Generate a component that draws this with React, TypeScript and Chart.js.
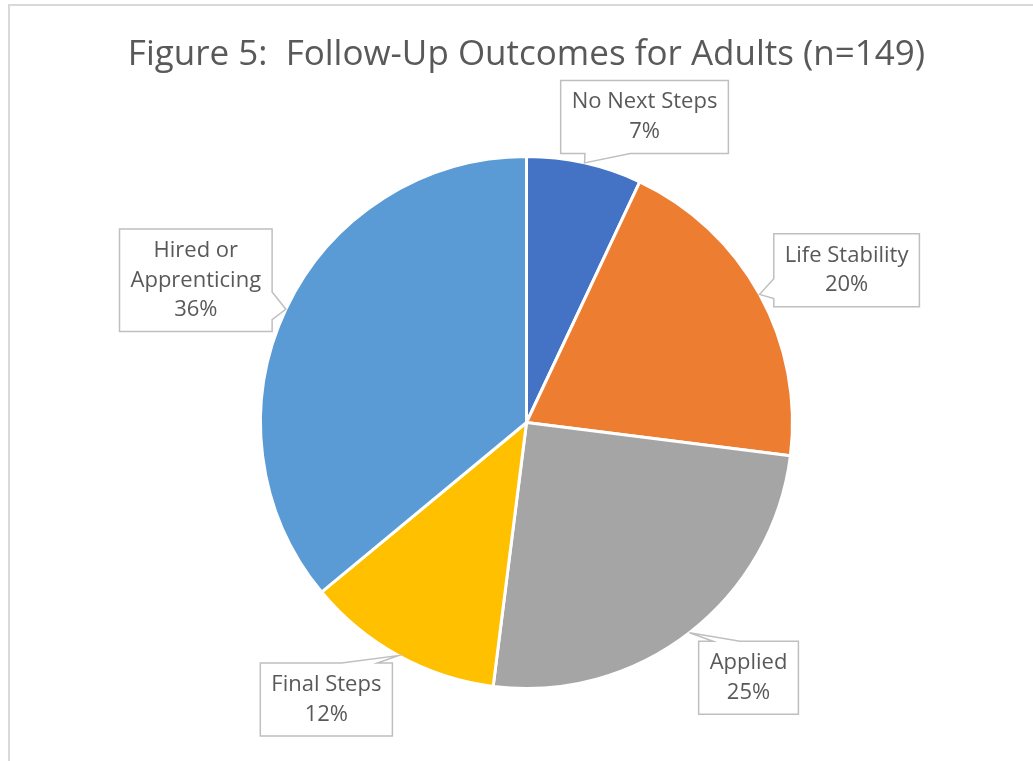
import React, { useEffect, useRef } from "react";
import { Chart, registerables } from "chart.js";

Chart.register(...registerables);

const categories = ["No Next Steps", "Life Stability", "Applied", "Final Steps", "Hired or Apprenticing"];
const labelLines = [["No Next Steps"], ["Life Stability"], ["Applied"], ["Final Steps"], ["Hired or", "Apprenticing"]];
const percentages = [7, 20, 25, 12, 36];
const sliceColors = ["#4472C4", "#ED7D31", "#A5A5A5", "#FFC000", "#5B9BD5"];
const titleText = "Figure 5:  Follow-Up Outcomes for Adults (n=149)";

// callout box centre offset (px) from the slice's outer mid-point
const calloutOffsets = [
  [60, -46],
  [87, -24],
  [59, 45],
  [-72, 44],
  [-90, -29],
];

const FONT_FAMILY = "'Open Sans', sans-serif";
const LABEL_FONT = `22px ${FONT_FAMILY}`;
const TITLE_FONT = `35px ${FONT_FAMILY}`;
const LINE_H = 29.5;
const PAD_X = 11;
const PAD_Y = 7;
const TEXT_COLOR = "#595959";

const framePlugin = {
  id: "frame",
  beforeDraw(chart: any) {
    const ctx = chart.ctx;
    ctx.save();
    ctx.fillStyle = "#ffffff";
    ctx.fillRect(0, 0, chart.width, chart.height);
    ctx.strokeStyle = "#d9d9d9";
    ctx.lineWidth = 2;
    ctx.beginPath();
    ctx.moveTo(chart.width, 5);
    ctx.lineTo(9, 5);
    ctx.lineTo(9, chart.height);
    ctx.stroke();
    // title, centred over the plot area
    const ca = chart.chartArea;
    ctx.font = TITLE_FONT;
    ctx.fillStyle = TEXT_COLOR;
    ctx.textAlign = "center";
    ctx.textBaseline = "alphabetic";
    ctx.fillText(titleText, (ca.left + ca.right) / 2, 65);
    ctx.restore();
  },
};

const clamp = (v: number, a: number, b: number) => Math.max(a, Math.min(b, v));

const calloutPlugin = {
  id: "callouts",
  afterDatasetsDraw(chart: any) {
    const ctx = chart.ctx;
    const meta = chart.getDatasetMeta(0);
    ctx.save();
    ctx.font = LABEL_FONT;
    meta.data.forEach((arc: any, i: number) => {
      const { x, y, startAngle, endAngle, outerRadius } = arc.getProps(
        ["x", "y", "startAngle", "endAngle", "outerRadius"],
        true
      );
      const mid = (startAngle + endAngle) / 2;
      const tx = x + Math.cos(mid) * outerRadius;
      const ty = y + Math.sin(mid) * outerRadius;
      const value = chart.data.datasets[0].data[i];
      const lines = [...labelLines[i], `${value}%`];
      const w = Math.max(...lines.map((l: string) => ctx.measureText(l).width)) + 2 * PAD_X;
      const h = lines.length * LINE_H + 2 * PAD_Y;
      const cx = tx + calloutOffsets[i][0];
      const cy = ty + calloutOffsets[i][1];
      const L = cx - w / 2, R = cx + w / 2, T = cy - h / 2, B = cy + h / 2;

      let edge = "";
      if (ty > B) edge = "bottom";
      else if (ty < T) edge = "top";
      else if (tx < L) edge = "left";
      else if (tx > R) edge = "right";

      const base = (proj: number, s: number, e: number) => {
        const len = e - s;
        const c = clamp(proj, s + 0.28 * len, e - 0.25 * len);
        const bw = 0.27 * len;
        return [c - bw / 2, c + bw / 2];
      };

      ctx.beginPath();
      ctx.moveTo(L, T);
      if (edge === "top") {
        const [b1, b2] = base(tx, L, R);
        ctx.lineTo(b1, T);
        ctx.lineTo(tx, ty);
        ctx.lineTo(b2, T);
      }
      ctx.lineTo(R, T);
      if (edge === "right") {
        const [b1, b2] = base(ty, T, B);
        ctx.lineTo(R, b1);
        ctx.lineTo(tx, ty);
        ctx.lineTo(R, b2);
      }
      ctx.lineTo(R, B);
      if (edge === "bottom") {
        const [b1, b2] = base(tx, L, R);
        ctx.lineTo(b2, B);
        ctx.lineTo(tx, ty);
        ctx.lineTo(b1, B);
      }
      ctx.lineTo(L, B);
      if (edge === "left") {
        const [b1, b2] = base(ty, T, B);
        ctx.lineTo(L, b2);
        ctx.lineTo(tx, ty);
        ctx.lineTo(L, b1);
      }
      ctx.closePath();
      ctx.fillStyle = "#ffffff";
      ctx.fill();
      ctx.strokeStyle = "#BFBFBF";
      ctx.lineWidth = 1.5;
      ctx.stroke();

      ctx.fillStyle = TEXT_COLOR;
      ctx.textAlign = "center";
      ctx.textBaseline = "middle";
      lines.forEach((line: string, k: number) => {
        ctx.fillText(line, cx, T + PAD_Y + LINE_H / 2 + k * LINE_H);
      });
    });
    ctx.restore();
  },
};

export default function App() {
  const canvasRef = useRef<HTMLCanvasElement | null>(null);

  useEffect(() => {
    document.body.style.margin = "0";
    document.body.style.overflow = "hidden";
    const canvas = canvasRef.current;
    if (!canvas) return;
    const chart = new Chart(canvas, {
      type: "pie",
      data: {
        labels: categories,
        datasets: [
          {
            data: percentages,
            backgroundColor: sliceColors,
            borderColor: "#ffffff",
            borderWidth: 3,
          },
        ],
      },
      options: {
        animation: false,
        responsive: true,
        maintainAspectRatio: false,
        layout: { padding: { top: 155, bottom: 71, left: 259, right: 239 } },
        plugins: {
          legend: { display: false },
          tooltip: { enabled: false },
          title: { display: false },
        },
      },
      plugins: [framePlugin, calloutPlugin],
    });
    return () => chart.destroy();
  }, []);

  return (
    <div style={{ position: "relative", width: 1033, height: 761 }}>
      <canvas ref={canvasRef} />
    </div>
  );
}
